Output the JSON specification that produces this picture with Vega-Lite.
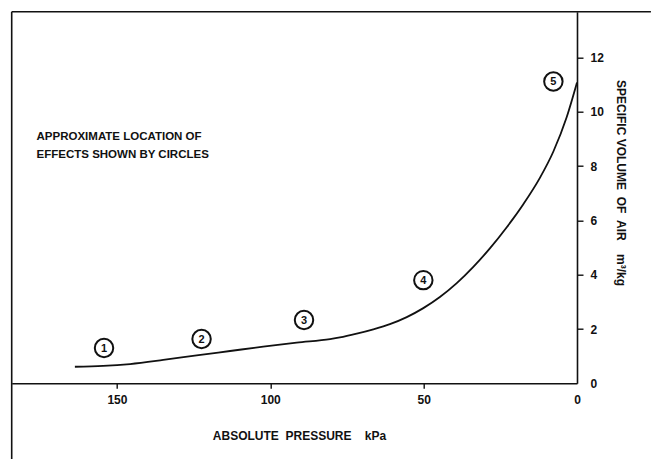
{
  "$schema": "https://vega.github.io/schema/vega-lite/v6.json",
  "autosize": {"type": "none"},
  "width": 565.3,
  "height": 371.6,
  "padding": {"left": 11.7, "top": 11.7, "right": 74, "bottom": 75.7},
  "background": "white",
  "config": {
    "view": {"stroke": null},
    "font": "Liberation Sans",
    "axis": {"grid": false, "domainColor": "#111", "domainWidth": 1.6, "tickColor": "#111", "tickWidth": 1.4, "labelColor": "#111", "titleColor": "#111", "labelFont": "Liberation Sans", "titleFont": "Liberation Sans", "labelFontWeight": "bold", "titleFontWeight": "bold"}
  },
  "datasets": {
    "curve": [
      {"p": 163.7, "v": 0.61}, {"p": 154.5, "v": 0.64}, {"p": 145.7, "v": 0.71}, {"p": 134.9, "v": 0.86},
      {"p": 124.0, "v": 1.03}, {"p": 113.1, "v": 1.19}, {"p": 102.3, "v": 1.35}, {"p": 91.4, "v": 1.50},
      {"p": 80.5, "v": 1.63}, {"p": 77.3, "v": 1.69}, {"p": 71.8, "v": 1.83}, {"p": 66.4, "v": 1.99},
      {"p": 61.0, "v": 2.18}, {"p": 55.5, "v": 2.44}, {"p": 50.1, "v": 2.77}, {"p": 44.7, "v": 3.18},
      {"p": 39.2, "v": 3.69}, {"p": 33.8, "v": 4.29}, {"p": 28.4, "v": 4.97}, {"p": 22.9, "v": 5.75},
      {"p": 17.5, "v": 6.60}, {"p": 12.1, "v": 7.57}, {"p": 7.7, "v": 8.54}, {"p": 3.4, "v": 9.79},
      {"p": 0, "v": 11.08}
    ],
    "circles": [
      {"p": 154.2, "v": 1.30, "n": "1"},
      {"p": 122.4, "v": 1.63, "n": "2"},
      {"p": 89.0, "v": 2.33, "n": "3"},
      {"p": 50.1, "v": 3.80, "n": "4"},
      {"p": 7.7, "v": 11.12, "n": "5"}
    ]
  },
  "layer": [
    {
      "data": {"name": "curve"},
      "mark": {"type": "line", "color": "#111", "strokeWidth": 1.8, "interpolate": "monotone"},
      "encoding": {
        "x": {
          "field": "p", "type": "quantitative",
          "scale": {"domain": [0, 184.3], "reverse": true, "nice": false, "zero": false},
          "axis": {
            "orient": "bottom",
            "values": [0, 50, 100, 150],
            "tickSize": 5,
            "labelPadding": 6,
            "labelFontSize": 12,
            "labelFlush": false,
            "labelOverlap": false,
            "labelBound": false,
            "tickOpacity": {"condition": {"test": "datum.value === 0", "value": 0}, "value": 1},
            "title": "ABSOLUTE\u00a0\u00a0PRESSURE\u00a0\u00a0\u00a0\u00a0kPa",
            "titleFontSize": 12,
            "titleX": 287.3,
            "titleY": 56,
            "titleAlign": "center",
            "titleBaseline": "alphabetic"
          }
        },
        "y": {
          "field": "v", "type": "quantitative",
          "scale": {"domain": [0, 13.69], "nice": false, "zero": false},
          "axis": {
            "orient": "right",
            "values": [0, 2, 4, 6, 8, 10, 12],
            "tickSize": 6,
            "labelPadding": 7,
            "labelFontSize": 12,
            "labelFlush": false,
            "labelOverlap": false,
            "labelBound": false,
            "tickOpacity": {"condition": {"test": "datum.value === 0", "value": 0}, "value": 1},
            "title": "SPECIFIC\u00a0VOLUME\u00a0\u00a0OF\u00a0\u00a0AIR\u00a0\u00a0\u00a0\u00a0m³/kg",
            "titleFontSize": 12,
            "titleAngle": 90,
            "titleX": 39,
            "titleY": 170.8,
            "titleAlign": "center",
            "titleBaseline": "alphabetic"
          }
        }
      }
    },
    {
      "data": {"name": "circles"},
      "mark": {"type": "point", "shape": "circle", "filled": false, "stroke": "#111", "strokeWidth": 2, "size": 340, "opacity": 1},
      "encoding": {
        "x": {"field": "p", "type": "quantitative"},
        "y": {"field": "v", "type": "quantitative"}
      }
    },
    {
      "data": {"name": "circles"},
      "mark": {"type": "text", "font": "Liberation Sans", "fontWeight": "bold", "fontSize": 11, "color": "#111", "align": "center", "baseline": "middle", "dy": 0.5},
      "encoding": {
        "x": {"field": "p", "type": "quantitative"},
        "y": {"field": "v", "type": "quantitative"},
        "text": {"field": "n"}
      }
    },
    {
      "data": {"values": [{}]},
      "mark": {"type": "text", "font": "Liberation Sans", "fontWeight": "bold", "fontSize": 11.5, "color": "#111", "align": "left", "baseline": "alphabetic", "lineHeight": 18, "text": ["APPROXIMATE LOCATION OF", "EFFECTS SHOWN BY CIRCLES"]},
      "encoding": {
        "x": {"datum": 176.2},
        "y": {"datum": 8.96}
      }
    },
    {
      "data": {"values": [{}]},
      "mark": {"type": "rule", "color": "#111", "strokeWidth": 1.6},
      "encoding": {
        "x": {"datum": 184.3},
        "x2": {"datum": -24.1},
        "y": {"datum": 13.69}
      }
    },
    {
      "data": {"values": [{}]},
      "mark": {"type": "rule", "color": "#111", "strokeWidth": 1.6},
      "encoding": {
        "x": {"datum": 184.3},
        "y": {"datum": 13.69},
        "y2": {"datum": -2.79}
      }
    }
  ]
}
